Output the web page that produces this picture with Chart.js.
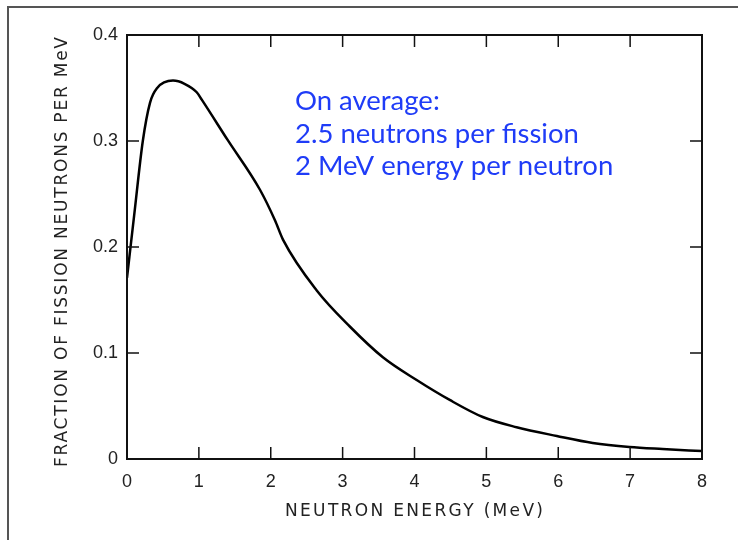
<!DOCTYPE html>
<html>
<head>
<meta charset="utf-8">
<script src="https://cdn.jsdelivr.net/npm/chart.js"></script>
<style>
  html, body { margin: 0; padding: 0; background: #fff; }
  #wrap { width: 738px; height: 540px; position: relative; }
</style>
</head>
<body>
<div id="wrap"><canvas id="spectrum"></canvas></div>
<script>
// Fission neutron energy spectrum
const energyMeV = [0, 0.1, 0.22, 0.32, 0.42, 0.64, 0.8, 0.97, 1.04, 1.4, 1.85, 2.06, 2.17,
                   2.64, 3.1, 3.56, 4.03, 4.49, 4.95, 5.42, 5.98, 6.48, 6.99, 7.45, 8];
const fraction = [0.171, 0.23, 0.30, 0.336, 0.35, 0.357, 0.354, 0.346, 0.339, 0.301, 0.254, 0.225, 0.207,
                  0.159, 0.125, 0.096, 0.0745, 0.0557, 0.0396, 0.030, 0.0217, 0.0151, 0.0113, 0.0094, 0.0075];

const xTicks = [0, 1, 2, 3, 4, 5, 6, 7, 8];
const yTicks = [0, 0.1, 0.2, 0.3, 0.4];

const xTitle = 'NEUTRON ENERGY (MeV)';
const yTitle = 'FRACTION OF FISSION NEUTRONS PER MeV';
const noteLines = ['On average:', '2.5 neutrons per fission', '2 MeV energy per neutron'];

// texte avec espacement pour remplir une largeur donnée
function spacedText(ctx, text, x, y, targetWidth) {
  ctx.letterSpacing = '0px';
  const w = ctx.measureText(text).width;
  const sp = Math.max(0, (targetWidth - w) / (text.length - 1));
  ctx.letterSpacing = sp + 'px';
  ctx.textAlign = 'left';
  ctx.fillText(text, x - targetWidth / 2, y);
  ctx.letterSpacing = '0px';
}

const framePlugin = {
  id: 'frame',
  beforeDraw(chart) {
    const ctx = chart.ctx;
    ctx.save();
    ctx.fillStyle = '#fff';
    ctx.fillRect(0, 0, chart.width, chart.height);
    // cadre extérieur
    ctx.strokeStyle = '#555';
    ctx.lineWidth = 2;
    ctx.beginPath();
    ctx.moveTo(8, 540);
    ctx.lineTo(8, 7);
    ctx.lineTo(738, 7);
    ctx.stroke();
    ctx.restore();
  },
  afterDraw(chart) {
    const ctx = chart.ctx;
    const a = chart.chartArea;
    const xs = chart.scales.x, ys = chart.scales.y;
    ctx.save();
    ctx.strokeStyle = '#111';
    ctx.lineWidth = 2;
    ctx.strokeRect(a.left, a.top, a.right - a.left, a.bottom - a.top);

    // ticks vers l'intérieur
    ctx.lineWidth = 1.5;
    ctx.beginPath();
    xTicks.slice(1, -1).forEach(v => {
      const px = xs.getPixelForValue(v);
      ctx.moveTo(px, a.bottom); ctx.lineTo(px, a.bottom - 12);
      ctx.moveTo(px, a.top); ctx.lineTo(px, a.top + 12);
    });
    yTicks.slice(1, -1).forEach(v => {
      const py = ys.getPixelForValue(v);
      ctx.moveTo(a.left, py); ctx.lineTo(a.left + 12, py);
      ctx.moveTo(a.right, py); ctx.lineTo(a.right - 12, py);
    });
    ctx.stroke();

    // titres des axes
    ctx.fillStyle = '#222';
    ctx.font = '17px "DejaVu Sans"';
    ctx.textBaseline = 'middle';
    spacedText(ctx, xTitle, 414, 512, 258);
    ctx.save();
    ctx.translate(63, 252);
    ctx.rotate(-Math.PI / 2);
    spacedText(ctx, yTitle, 0, 0, 430);
    ctx.restore();

    // annotation
    ctx.fillStyle = '#1f3cf7';
    ctx.font = '27.5px Lato';
    ctx.textBaseline = 'alphabetic';
    ctx.textAlign = 'left';
    noteLines.forEach((t, i) => ctx.fillText(t, 295, 110 + i * 32.5));
    ctx.restore();
  }
};

new Chart(document.getElementById('spectrum'), {
  type: 'line',
  data: {
    datasets: [{
      data: energyMeV.map((e, i) => ({ x: e, y: fraction[i] })),
      borderColor: '#000',
      borderWidth: 2.5,
      pointRadius: 0,
      cubicInterpolationMode: 'monotone',
      fill: false
    }]
  },
  options: {
    responsive: true,
    maintainAspectRatio: false,
    animation: false,
    layout: { padding: { left: 0, top: 35, right: 36, bottom: 0 } },
    plugins: { legend: { display: false }, tooltip: { enabled: false } },
    scales: {
      x: {
        type: 'linear',
        min: 0, max: 8,
        afterBuildTicks: s => { s.ticks = xTicks.map(v => ({ value: v })); },
        afterFit: s => { s.height = 81; },
        grid: { display: false, drawTicks: false, tickLength: 0 },
        border: { display: false },
        ticks: { color: '#222', padding: 12, font: { size: 18, family: 'Liberation Sans' } }
      },
      y: {
        min: 0, max: 0.4,
        afterBuildTicks: s => { s.ticks = yTicks.map(v => ({ value: v })); },
        afterFit: s => { s.width = 127; },
        grid: { display: false, drawTicks: false, tickLength: 0 },
        border: { display: false },
        ticks: {
          color: '#222', padding: 9,
          font: { size: 18, family: 'Liberation Sans' },
          callback: v => v === 0 ? '0' : v.toFixed(1)
        }
      }
    }
  },
  plugins: [framePlugin]
});
</script>
</body>
</html>
